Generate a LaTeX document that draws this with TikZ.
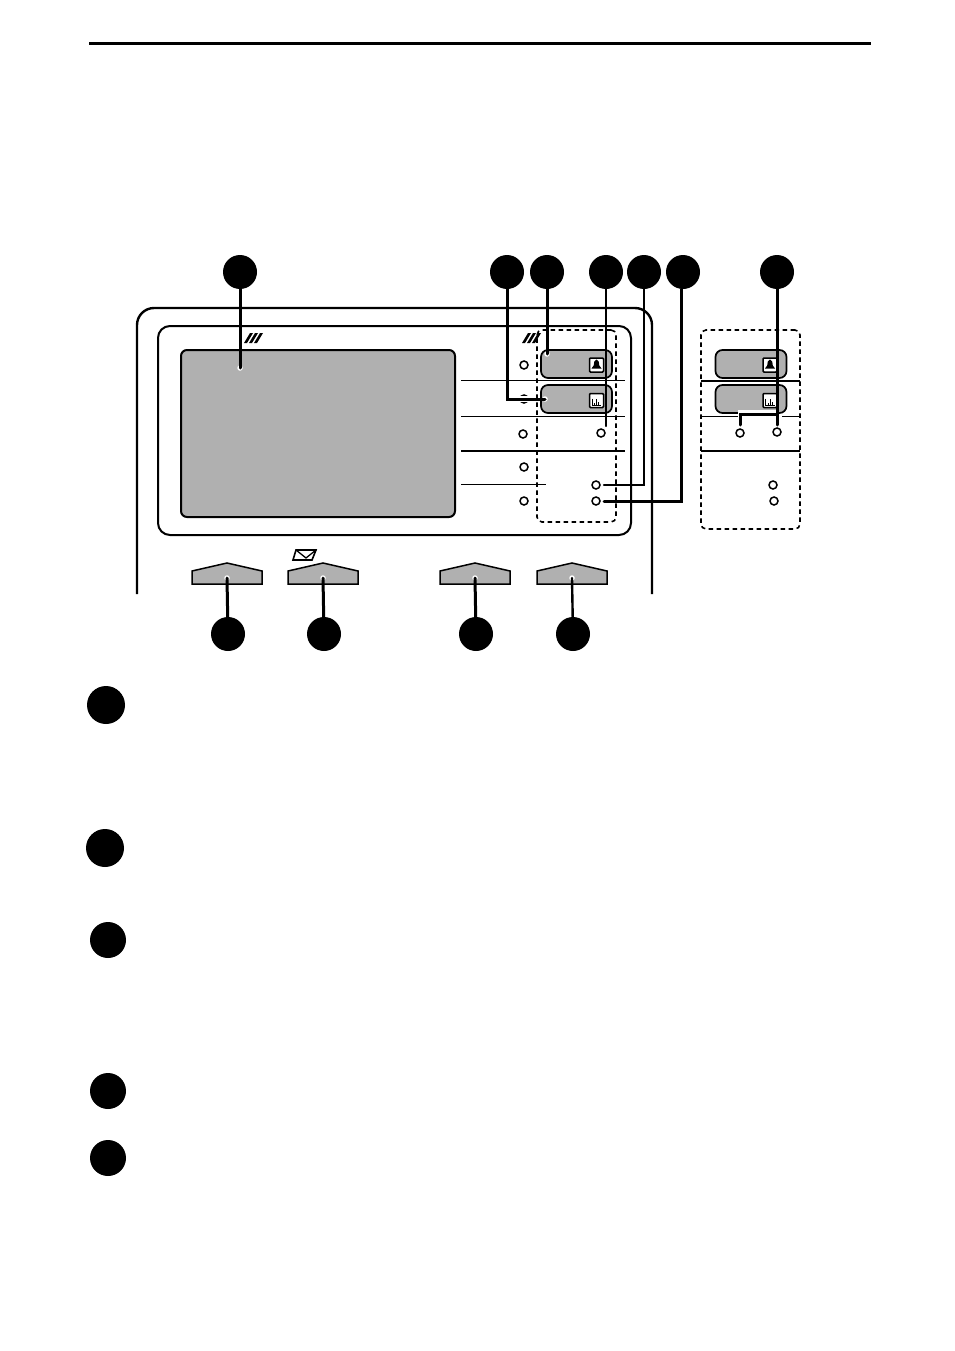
\documentclass[tikz,border=0pt]{standalone}
\tikzset{
  callout/.style={circle,fill=black,inner sep=0pt,minimum size=34pt},
  bigcallout/.style={callout,minimum size=38pt},
  lamp/.style={circle,draw,line width=1.5pt,fill=white,inner sep=0pt,minimum size=8pt},
  keycap/.style={draw,line width=1.7pt,fill=panelgray,rounded corners=7pt,inner sep=0pt,minimum width=71pt,minimum height=28pt},
  icon/.style={draw,line width=1.5pt,fill=white,rounded corners=1pt,inner sep=0pt,minimum size=14pt},
  softkey/.style={draw,line width=1.5pt,fill=panelgray},
  leader/.style={line width=3pt,line cap=round},
  thinleader/.style={line width=2.4pt,line cap=round},
  leadend/.style={circle,fill=white,inner sep=0pt,minimum size=5.5pt},
  thinrule/.style={line width=1pt},
  thickrule/.style={line width=2.6pt},
  dashbox/.style={draw,line width=1.6pt,dash pattern=on 4.5pt off 3.5pt,rounded corners=5pt}
}
\colorlet{panelgray}{black!31}
\begin{document}
\begin{tikzpicture}[x=1pt,y=-1pt]
  \useasboundingbox (0,0) rectangle (954,1351);
  \draw[line width=3pt] (89,44) -- (871,44);

  \draw[line width=2.4pt,rounded corners=17pt] (137,594) -- (137,308) -- (652,308) -- (652,594);
  \draw[line width=2pt,rounded corners=12pt] (158,326) rectangle (631,535);
  \draw[line width=2pt,fill=panelgray,rounded corners=6pt] (181,350) rectangle (455,517);
  \fill (244,343) -- (250,333) -- (253,333) -- (247,343) -- cycle;
  \fill (249,343) -- (255,333) -- (258,333) -- (252,343) -- cycle;
  \fill (254,343) -- (260,333) -- (263,333) -- (257,343) -- cycle;
  \fill (522,343) -- (528,333) -- (531,333) -- (525,343) -- cycle;
  \fill (527,343) -- (533,333) -- (536,333) -- (530,343) -- cycle;
  \fill (532,343) -- (538,333) -- (541,333) -- (535,343) -- cycle;

  \node[dashbox,minimum width=79pt,minimum height=192pt,inner sep=0pt] (leftbox) at (576.5,426) {};
  \node[dashbox,minimum width=99pt,minimum height=199pt,inner sep=0pt] (rightbox) at (750.5,429.5) {};

  \node[keycap] (leftkeya) at (576.5,364) {};
  \node[keycap] (leftkeyb) at (576.5,399) {};
  \node[keycap] (rightkeya) at (751,364) {};
  \node[keycap] (rightkeyb) at (751,399) {};
  \node[icon] (leftbell) at (596.5,365) {};
  \node[icon] (leftmeter) at (596.5,400.5) {};
  \node[icon] (rightbell) at (770,365) {};
  \node[icon] (rightmeter) at (770,400.5) {};
  \fill (leftbell.center) ++(-5,3.5) -- ++(10,0) -- ++(-2.2,-3) -- ++(-0.6,-4) -- ++(-2.2,-2) -- ++(-2.2,2) -- ++(-0.6,4) -- cycle;
  \fill (rightbell.center) ++(-5,3.5) -- ++(10,0) -- ++(-2.2,-3) -- ++(-0.6,-4) -- ++(-2.2,-2) -- ++(-2.2,2) -- ++(-0.6,4) -- cycle;
  \draw[line width=0.6pt] (leftmeter.center) ++(-4.5,-2) -- ++(0,7) -- ++(9,0) ++(-6.5,0) -- ++(0,-3) ++(2,3) -- ++(0,-7) ++(2,7) -- ++(0,-4);
  \draw[line width=0.6pt] (rightmeter.center) ++(-4.5,-2) -- ++(0,7) -- ++(9,0) ++(-6.5,0) -- ++(0,-3) ++(2,3) -- ++(0,-7) ++(2,7) -- ++(0,-4);

  \draw[thinrule] (461,380.5) -- (625,380.5);
  \draw[thinrule] (461,416) -- (625,416);
  \draw[thickrule] (461,451) -- (625,451);
  \draw[thinrule] (461,484) -- (546,484);
  \draw[thickrule] (701,381) -- (800,381);
  \draw[thinrule] (701,416) -- (738,416);
  \draw[thinrule] (782,416) -- (800,416);
  \draw[thickrule] (701,451) -- (800,451);

  \node[lamp] (lampa) at (524,365) {};
  \node[lamp] (lampb) at (524,399) {};
  \node[lamp] (lampc) at (523,434) {};
  \node[lamp] (lampd) at (524,467) {};
  \node[lamp] (lampe) at (524,501) {};
  \node[lamp] (lampf) at (601,433) {};
  \node[lamp] (lampg) at (596,485) {};
  \node[lamp] (lamph) at (596,501) {};
  \node[lamp] (lampi) at (740,433) {};
  \node[lamp] (lampj) at (777,432) {};
  \node[lamp] (lampk) at (773,485) {};
  \node[lamp] (lampl) at (774,501) {};

  \path[softkey] (192,584) -- (192,571) -- (227,563) -- (262,571) -- (262,584) -- cycle;
  \path[softkey] (288,584) -- (288,571) -- (323,563) -- (358,571) -- (358,584) -- cycle;
  \path[softkey] (440,584) -- (440,571) -- (475,563) -- (510,571) -- (510,584) -- cycle;
  \path[softkey] (537,584) -- (537,571) -- (572,563) -- (607,571) -- (607,584) -- cycle;
  \draw[line width=1.6pt,fill=white] (296,550) -- (316,550) -- (312,560) -- (293,560) -- cycle;
  \draw[line width=1.3pt] (296,550) -- (306,558) -- (316,550);

  \node[callout] (display) at (240,272) {};
  \node[callout] (keytwo) at (507,272) {};
  \node[callout] (keyone) at (547,272) {};
  \node[callout] (lampone) at (606,272) {};
  \node[callout] (lamptwo) at (644,272) {};
  \node[callout] (lampthree) at (683,272) {};
  \node[callout] (lampfour) at (777,272) {};
  \node[callout] (softa) at (228,634) {};
  \node[callout] (softb) at (324,634) {};
  \node[callout] (softc) at (476,634) {};
  \node[callout] (softd) at (573,634) {};

  \node[leadend] (displayend) at (240,368) {};
  \node[leadend] (keytwoend) at (545,399) {};
  \node[leadend] (keyoneend) at (547,354) {};
  \node[leadend] (softaend) at (227,578) {};
  \node[leadend] (softbend) at (323,578) {};
  \node[leadend] (softcend) at (475,578) {};
  \node[leadend] (softdend) at (572,578) {};
  \coordinate (keytwobend) at (507,399);
  \coordinate (lampgbend) at (644,485);
  \coordinate (lamphbend) at (681,501);
  \coordinate (lampfend) at (606,426);
  \coordinate (lampgend) at (604,485);
  \coordinate (lamphend) at (604,501);
  \coordinate (lampjend) at (777,425);
  \coordinate (lampibranch) at (777,414);
  \coordinate (lampiend) at (740,425);

  \draw[leader] (display) -- (displayend.center);
  \draw[white,line width=6pt] (517,399) -- (531,399);
  \draw[leader] (keytwo) -- (keytwobend) -- (keytwoend.center);
  \draw[leader] (keyone) -- (keyoneend.center);
  \draw[thinleader] (lampone) -- (lampfend);
  \draw[thinleader] (lamptwo) -- (lampgbend) -- (lampgend);
  \draw[leader] (lampthree.south -| lamphbend) -- (lamphbend) -- (lamphend);
  \draw[white,line width=6pt] (777,413) -| (741,417);
  \draw[leader] (lampfour) -- (lampjend);
  \draw[leader] (lampibranch) -| (lampiend);
  \draw[leader] (softa) -- (softaend.center);
  \draw[leader] (softb) -- (softbend.center);
  \draw[leader] (softc) -- (softcend.center);
  \draw[thinleader] (softd) -- (softdend.center);

  \node[bigcallout] (notea) at (106,705) {};
  \node[bigcallout] (noteb) at (105,848) {};
  \node[callout,minimum size=36pt] (notec) at (108,940) {};
  \node[callout,minimum size=36pt] (noted) at (108,1091) {};
  \node[callout,minimum size=36pt] (notee) at (108,1158) {};
\end{tikzpicture}
\end{document}
